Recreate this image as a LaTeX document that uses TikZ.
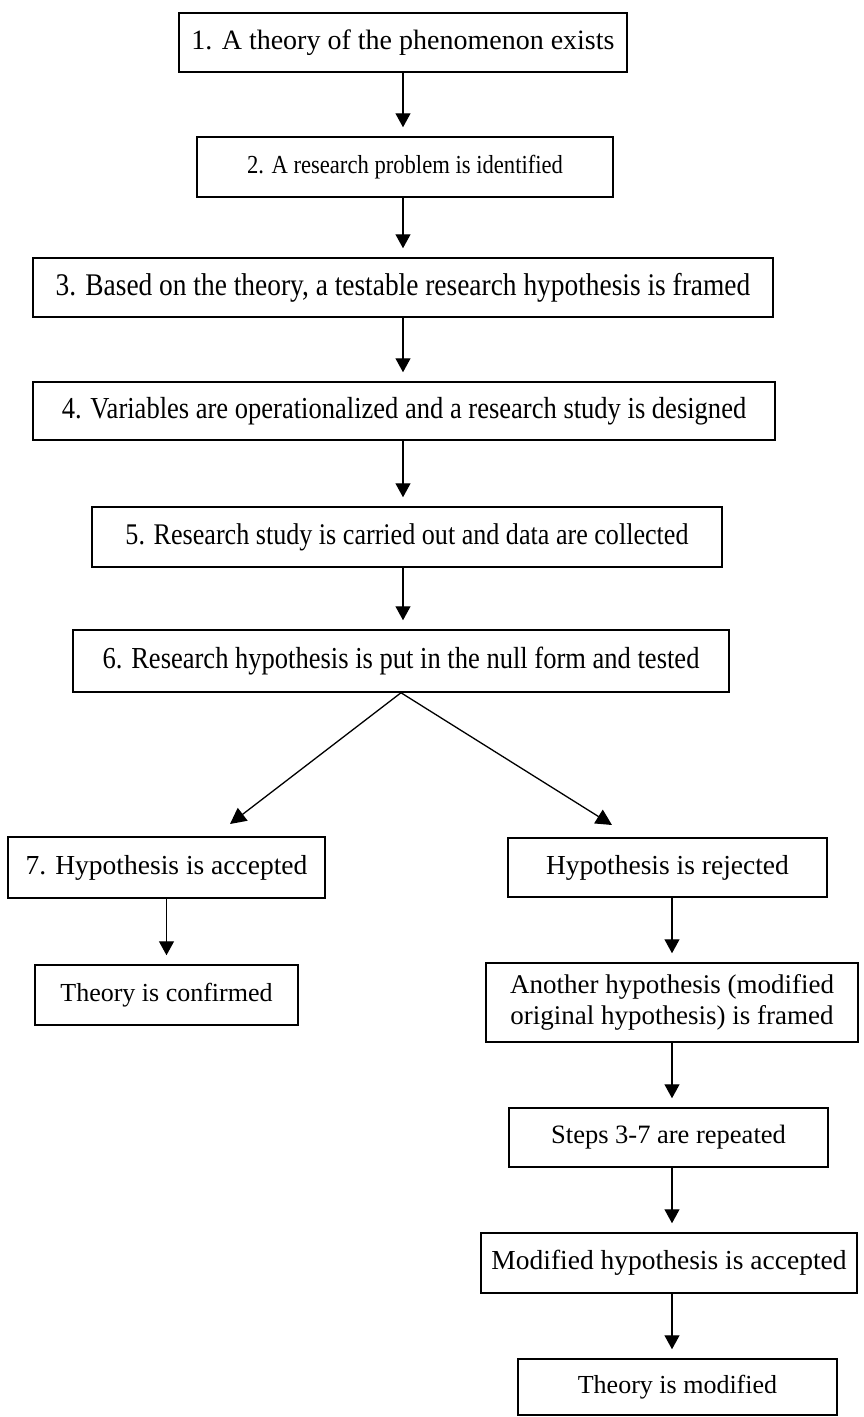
\documentclass[tikz,border=0pt]{standalone}
\usepackage{fontspec}
\setmainfont{Liberation Serif}
\newfontfamily\cond[FakeStretch=0.87]{Liberation Serif}
\usetikzlibrary{arrows.meta}
\tikzset{
  box/.style={draw, line width=1.5pt, inner sep=0pt, align=center, minimum height=60pt},
  arr/.style={line width=1.3pt, -{Triangle[length=14pt,width=15pt]}, shorten >=9pt},
  darr/.style={line width=1.3pt, -{Triangle[length=16pt,width=16pt]}},
  nf/.style={font=\fontsize{#1}{#1}\selectfont},
  cf/.style={font=\cond\fontsize{#1}{#1}\selectfont},
}
\begin{document}
\begin{tikzpicture}[x=1pt,y=-1pt]
\useasboundingbox (0,0) rectangle (863,1417);
% main column
\node[box, nf=28, minimum width=448pt, minimum height=59pt] (b1) at (403,42.5) {1. A theory of the phenomenon exists};
\node[box, cf=26, minimum width=416pt] (b2) at (405,167) {2. A research problem is identified};
\node[box, cf=31.5, minimum width=740pt, minimum height=59pt] (b3) at (403,287.5) {3. Based on the theory, a testable research hypothesis is framed};
\node[box, cf=30.5, minimum width=742pt, minimum height=58pt] (b4) at (404,411) {4. Variables are operationalized and a research study is designed};
\node[box, cf=30, minimum width=630pt] (b5) at (407,537) {5. Research study is carried out and data are collected};
\node[box, cf=30.5, minimum width=656pt, minimum height=62pt] (b6) at (401,661) {6. Research hypothesis is put in the null form and tested};
% left branch
\node[box, nf=27.5, minimum width=317pt, minimum height=61pt] (b7) at (166.5,867.5) {7. Hypothesis is accepted};
\node[box, nf=26, minimum width=263pt] (conf) at (166.5,995) {Theory is confirmed};
% right branch
\node[box, nf=27.5, minimum width=319pt, minimum height=59pt] (rej) at (667.5,867.5) {Hypothesis is rejected};
\node[box, minimum width=372pt, minimum height=79pt, font=\fontsize{27}{31}\selectfont] (another) at (672,1002.5) {Another hypothesis (modified\\original hypothesis) is framed};
\node[box, nf=26.5, minimum width=319pt, minimum height=59pt] (steps) at (668.5,1137.5) {Steps 3-7 are repeated};
\node[box, nf=27.5, minimum width=376pt] (modacc) at (669,1263) {Modified hypothesis is accepted};
\node[box, nf=26, minimum width=319pt, minimum height=56pt] (tmod) at (677.5,1387) {Theory is modified};
% connectors
\draw[arr] (b1.south) -- (b1.south |- b2.north);
\draw[arr] (b2.south -| b1.south) -- (b1.south |- b3.north);
\draw[arr] (b3.south) -- (b3.south |- b4.north);
\draw[arr] (b4.south -| b3.south) -- (b3.south |- b5.north);
\draw[arr] (b5.south -| b3.south) -- (b3.south |- b6.north);
\coordinate (t7) at (230,824);
\coordinate (tr) at (612,825);
\draw[darr] (b6.south) -- (t7);
\draw[darr] (b6.south) -- (tr);
\draw[arr] (b7.south) -- (b7.south |- conf.north);
\draw[arr] (rej.south -| another.south) -- (another.north);
\draw[arr] (another.south) -- (another.south |- steps.north);
\draw[arr] (steps.south -| another.south) -- (another.south |- modacc.north);
\draw[arr] (modacc.south -| another.south) -- (another.south |- tmod.north);
\end{tikzpicture}
\end{document}
